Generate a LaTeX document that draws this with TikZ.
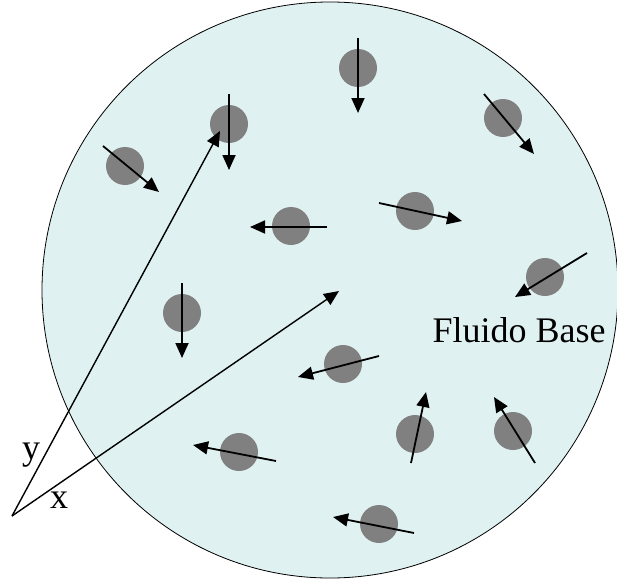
\documentclass[tikz,border=0pt]{standalone}
\usepackage{fontspec}
\setmainfont{Liberation Serif}
\usepackage{xcolor}
\usetikzlibrary{arrows.meta}
\definecolor{fluid}{RGB}{223,241,241}
\definecolor{grain}{RGB}{128,128,128}

\begin{document}
\begin{tikzpicture}[
  x=1pt, y=-1pt,
  particle/.style={circle, fill=grain, minimum size=38pt, inner sep=0pt},
  vec/.style={line width=1.8pt, -{Triangle[length=15pt,width=13pt]}},
  axis/.style={line width=1.4pt, -{Triangle[length=15pt,width=13pt]}},
  lbl/.style={font=\fontsize{36}{40}\selectfont, inner sep=0pt}
]
  \useasboundingbox (0,0) rectangle (617,583);
  % base fluid
  \draw[fill=fluid, line width=0.8pt] (330,290) circle (288);
  \node[lbl] (fluid) at (519,330) {Fluido Base};

  % particles with their velocities
  \foreach \n/\px/\py/\ax/\ay/\bx/\by in {
      1/358/68/358/38/358/113,
      2/229/124/229/94/229/170,
      3/503/118/484/94/534/154,
      4/125/166/103/146/159/192,
      5/291/226/327/227/250/227,
      6/415/211/379/203/462/221,
      7/545/277/587/253/515/297,
      8/182/313/182/283/182/358,
      9/343/364/379/356/298/377,
      10/415/434/411/463/426/392,
      11/513/431/535/463/494/397,
      12/239/452/276/461/193/445,
      13/379/524/414/533/333/517} {
    \node[particle] (p\n) at (\px,\py) {};
    \coordinate (s\n) at (\ax,\ay);
    \coordinate (e\n) at (\bx,\by);
    \draw[vec] (s\n) -- (e\n);
  }

  % position vectors
  \coordinate (origin) at (12,516);
  \coordinate (ytip) at (220,131);
  \coordinate (xtip) at (339,291);
  \draw[axis] (origin) -- (ytip);
  \draw[axis] (origin) -- (xtip);
  \node[lbl] (ylabel) at (31,455) {y};
  \node[lbl] (xlabel) at (59,500) {x};
\end{tikzpicture}
\end{document}
